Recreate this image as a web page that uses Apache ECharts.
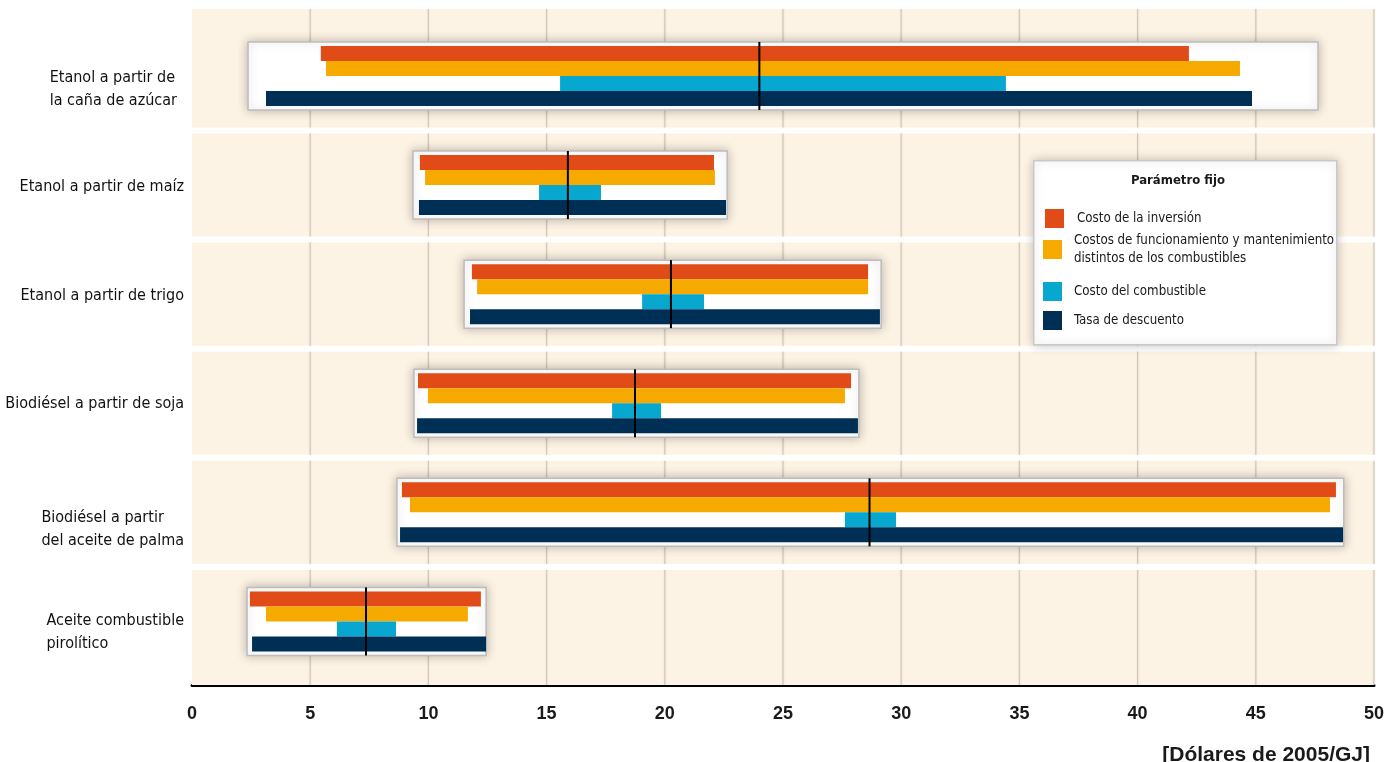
<!DOCTYPE html>
<html><head><meta charset="utf-8">
<script src="https://cdn.jsdelivr.net/npm/echarts@6/dist/echarts.min.js"></script>
<style>html,body{margin:0;padding:0;background:#fff}#c{width:1400px;height:762px}</style>
</head><body><div id="c"></div>
<script>
// ---- data ----
const categories = [
  'Etanol a partir de\nla caña de azúcar',
  'Etanol a partir de maíz',
  'Etanol a partir de trigo',
  'Biodiésel a partir de soja',
  'Biodiésel a partir\ndel aceite de palma',
  'Aceite combustible\npirolítico'
];
const seriesNames = [
  'Costo de la inversión',
  'Costos de funcionamiento y mantenimiento distintos de los combustibles',
  'Costo del combustible',
  'Tasa de descuento'
];
const investLow  = [5.45, 9.64, 11.84, 9.56, 8.88, 2.45];
const investHigh = [42.17, 22.08, 28.60, 27.88, 48.39, 12.22];
const omLow      = [5.67, 9.86, 12.06, 9.98, 9.22, 3.13];
const omHigh     = [44.33, 22.12, 28.60, 27.62, 48.14, 11.67];
const fuelLow    = [15.57, 14.68, 19.04, 17.77, 27.62, 6.13];
const fuelHigh   = [34.43, 17.30, 21.66, 19.84, 29.78, 8.63];
const discLow    = [3.13, 9.60, 11.76, 9.52, 8.80, 2.54];
const discHigh   = [44.84, 22.59, 29.10, 28.17, 48.69, 12.44];
const baseline   = [24.0, 15.9, 20.26, 18.74, 28.66, 7.36];
const boxLow     = [2.37, 9.35, 11.51, 9.39, 8.67, 2.33];
const boxHigh    = [47.63, 22.64, 29.15, 28.21, 48.72, 12.44];
const xMin = 0, xMax = 50, xStep = 5;
const unitLabel = '[Dólares de 2005/GJ]';
const legendTitle = 'Parámetro fijo';

// ---- styles ----
const FONT = "'DejaVu Sans Condensed','Liberation Sans',sans-serif";
const BOLDFONT = "'Liberation Sans',Arial,sans-serif";
const colors = ['#e04b17', '#f6aa00', '#08a7cf', '#002f55'];
const labelPad = [[26, 7, 0, 0], [4, 0, 0, 0], [4, 0, 0, 0], [2, 0, 0, 0], [33, 0, 0, 0], [21, 0, 0, 0]];
const N = categories.length;
const BAR_H = 15, BOX_HALF = 34;

function rangeData(lo, hi) { return lo.map((v, i) => [v, hi[i], i]); }

function barSeries(k, lo, hi) {
  return {
    type: 'custom', name: seriesNames[k], z: 3,
    itemStyle: { color: colors[k] },
    encode: { x: [0, 1], y: 2 },
    data: rangeData(lo, hi),
    renderItem: (params, api) => {
      const i = api.value(2);
      const a = api.coord([api.value(0), i]);
      const b = api.coord([api.value(1), i]);
      return {
        type: 'rect',
        shape: { x: a[0], y: a[1] - 2 * BAR_H + k * BAR_H, width: b[0] - a[0], height: BAR_H },
        style: { fill: colors[k] }
      };
    }
  };
}

const chart = echarts.init(document.getElementById('c'), null, { renderer: 'canvas' });

const option = {
  animation: false,
  grid: { left: 192, right: 26, top: 21.4, bottom: 86, containLabel: false, outerBoundsMode: 'none' },
  xAxis: {
    type: 'value', min: xMin, max: xMax, interval: xStep, position: 'bottom', offset: 9,
    axisLine: { show: true, lineStyle: { color: '#000', width: 3 } },
    axisTick: { show: false },
    splitLine: { show: false },
    axisLabel: { margin: 20, fontFamily: BOLDFONT, fontWeight: 'bold', fontSize: 18, color: '#1a1a1a' }
  },
  yAxis: {
    type: 'category', inverse: true,
    data: categories.map((c, i) => ({ value: c, textStyle: { padding: labelPad[i] } })),
    axisLine: { show: false }, axisTick: { show: false }, splitLine: { show: false },
    axisLabel: {
      margin: 8, color: '#111', fontFamily: FONT, fontSize: 16, lineHeight: 23,
      formatter: v => '{a|' + v + '}',
      rich: { a: { align: 'left', fontFamily: FONT, fontSize: 16, lineHeight: 23, color: '#111' } }
    }
  },
  title: [
    { text: unitLabel, right: 25, top: 740, textStyle: { fontFamily: BOLDFONT, fontWeight: 'bold', fontSize: 21, color: '#1a1a1a' } },
    { text: legendTitle, left: 1173, top: 169, textAlign: 'center', z: 8,
      textStyle: { fontFamily: FONT, fontWeight: 'bold', fontSize: 13, color: '#1a1a1a' } }
  ],
  graphic: [
    { type: 'rect', left: 1033, top: 160, z: 5,
      shape: { width: 303, height: 184 },
      style: { fill: '#fff', stroke: '#c9c9c9', lineWidth: 1.5, shadowBlur: 10, shadowColor: 'rgba(0,0,0,0.22)' } }
  ],
  legend: seriesNames.map((name, k) => ({
    data: [{ name, icon: 'rect' }],
    left: k === 0 ? 1045 : 1043,
    top: [209, 222, 282, 311][k],
    orient: 'vertical', padding: 0, itemWidth: 19, itemHeight: 19, itemGap: 0,
    selectedMode: false, z: 8,
    formatter: n => n.replace(' distintos', '\ndistintos'),
    textStyle: { fontFamily: FONT, fontSize: 13.2, color: '#1a1a1a', lineHeight: 18,
      padding: k === 1 ? [19, 0, 0, 7] : [0, 0, 0, k === 0 ? 8 : 7] }
  })),
  series: [
    {
      type: 'custom', name: 'bands', silent: true, z: 1,
      encode: { x: 0, y: 1 },
      data: categories.map((c, i) => [xMin, i]),
      renderItem: (params, api) => {
        const cs = params.coordSys;
        const i = api.value(1);
        const step = cs.height / N;
        const yc = api.coord([xMin, i])[1];
        let top = yc - step / 2 + 3, bot = yc + step / 2 - 3;
        if (i === 0) top = cs.y - 12.4;
        if (i === N - 1) bot = cs.y + cs.height + 9;
        const children = [{ type: 'rect', shape: { x: cs.x, y: top, width: cs.width, height: bot - top }, style: { fill: '#fdf3e4' } }];
        for (let v = xMin + xStep; v <= xMax; v += xStep) {
          const x = api.coord([v, i])[0];
          children.push({ type: 'line', shape: { x1: x, y1: top, x2: x, y2: bot },
            style: { stroke: '#d3cabf', lineWidth: 1.2, shadowBlur: 2, shadowColor: 'rgba(120,100,80,0.2)' } });
        }
        return { type: 'group', children };
      }
    },
    {
      type: 'custom', name: 'box', silent: true, z: 2,
      encode: { x: [0, 1], y: 2 },
      data: rangeData(boxLow, boxHigh),
      renderItem: (params, api) => {
        const i = api.value(2);
        const a = api.coord([api.value(0), i]);
        const b = api.coord([api.value(1), i]);
        return {
          type: 'rect',
          shape: { x: a[0], y: a[1] - BOX_HALF, width: b[0] - a[0], height: 2 * BOX_HALF },
          style: { fill: '#fff', stroke: '#bdbdbd', lineWidth: 1.5, shadowBlur: 10, shadowColor: 'rgba(0,0,0,0.25)' }
        };
      }
    },
    barSeries(0, investLow, investHigh),
    barSeries(1, omLow, omHigh),
    barSeries(2, fuelLow, fuelHigh),
    barSeries(3, discLow, discHigh),
    {
      type: 'custom', name: 'base', silent: true, z: 4,
      encode: { x: 0, y: 1 },
      data: baseline.map((v, i) => [v, i]),
      renderItem: (params, api) => {
        const i = api.value(1);
        const p = api.coord([api.value(0), i]);
        return { type: 'line', shape: { x1: p[0], y1: p[1] - BOX_HALF, x2: p[0], y2: p[1] + BOX_HALF },
          style: { stroke: '#000', lineWidth: 2 } };
      }
    }
  ]
};
chart.setOption(option);
</script>
</body></html>
